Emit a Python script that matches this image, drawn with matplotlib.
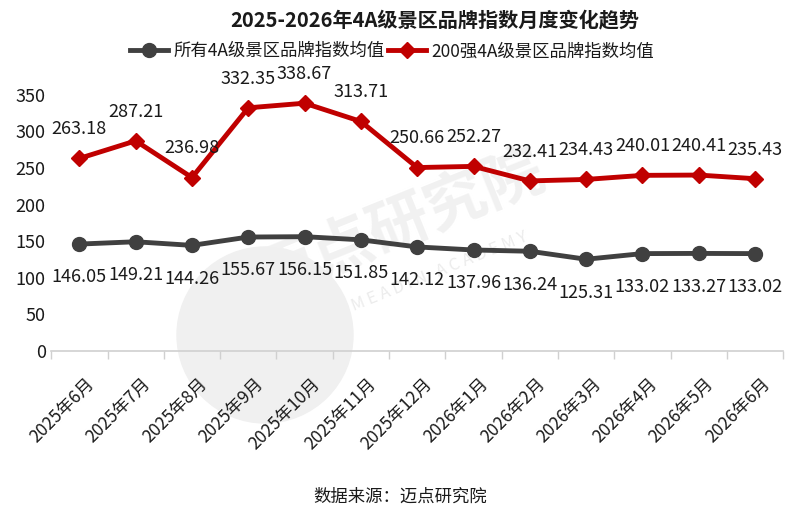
import matplotlib
matplotlib.use("Agg")
import matplotlib.pyplot as plt
from matplotlib.patches import Circle
from matplotlib.transforms import IdentityTransform, ScaledTranslation

plt.rcParams['font.family'] = ['Noto Sans CJK SC', 'DejaVu Sans']

months = ["2025年6月", "2025年7月", "2025年8月", "2025年9月", "2025年10月", "2025年11月",
          "2025年12月", "2026年1月", "2026年2月", "2026年3月", "2026年4月", "2026年5月", "2026年6月"]
all_4a = [146.05, 149.21, 144.26, 155.67, 156.15, 151.85, 142.12, 137.96, 136.24, 125.31, 133.02, 133.27, 133.02]
top200 = [263.18, 287.21, 236.98, 332.35, 338.67, 313.71, 250.66, 252.27, 232.41, 234.43, 240.01, 240.41, 235.43]
yticks = [0, 50, 100, 150, 200, 250, 300, 350]

fig = plt.figure(figsize=(8, 5.13), dpi=100)
ax = fig.add_axes([0.064, 0.316, 0.915, 0.499])
ax.set_zorder(2)
ax.patch.set_alpha(0)

# faint watermark (pixel coordinates)
wm = Circle((265, 513 - 335), 88, transform=IdentityTransform(), color='#f0f0f0', zorder=0)
fig.add_artist(wm)
fig.text(0.50, 0.56, "迈点研究院", fontsize=44, color='#f1f1f1', rotation=22,
         ha='center', va='center', zorder=0, fontweight='bold')
fig.text(0.55, 0.47, "M E A D I N   A C A D E M Y", fontsize=12, color='#ececec', rotation=22,
         ha='center', va='center', zorder=0)

x = list(range(len(months)))
ax.plot(x, all_4a, color='#404040', lw=3.5, marker='o', markersize=10, label='所有4A级景区品牌指数均值', zorder=3)
ax.plot(x, top200, color='#C00000', lw=3.5, marker='D', markersize=8, label='200强4A级景区品牌指数均值', zorder=3)

for i, v in enumerate(all_4a):
    ax.annotate(f"{v:.2f}", (i, v), xytext=(0, -24), textcoords='offset points',
                ha='center', va='center', fontsize=13, color='#1a1a1a')
for i, v in enumerate(top200):
    ax.annotate(f"{v:.2f}", (i, v), xytext=(0, 21), textcoords='offset points',
                ha='center', va='center', fontsize=13, color='#1a1a1a')

ax.set_xlim(-0.5, len(months) - 0.5)
ax.set_ylim(0, 350)
ax.set_yticks(yticks)
ax.set_yticklabels([str(t) for t in yticks], fontsize=13, color='#1a1a1a')
ax.set_xticks(x)
ax.set_xticklabels(months, rotation=45, ha='right', rotation_mode='anchor', fontsize=12.5, color='#1a1a1a')
ax.tick_params(axis='x', length=0, pad=17)
ax.tick_params(axis='y', length=0, pad=4)
shift = ScaledTranslation(0.06, 0, fig.dpi_scale_trans)
for lab in ax.get_xticklabels():
    lab.set_transform(lab.get_transform() + shift)
ax.set_xticks([i - 0.5 for i in range(len(months) + 1)], minor=True)
ax.tick_params(axis='x', which='minor', length=6, color='#d0d0d0', width=1)
for s in ['top', 'right', 'left']:
    ax.spines[s].set_visible(False)
ax.spines['bottom'].set_color('#d0d0d0')
ax.spines['bottom'].set_linewidth(1.2)

fig.text(0.544, 0.962, "2025-2026年4A级景区品牌指数月度变化趋势", fontsize=14.5, fontweight='bold',
         ha='center', va='center', color='#1a1a1a')
leg = fig.legend(loc='center', bbox_to_anchor=(0.49, 0.9), ncol=2, frameon=False, fontsize=12.5,
                 handlelength=2.2, handletextpad=0.3, columnspacing=0.2, borderaxespad=0)
for t in leg.get_texts():
    t.set_color('#1a1a1a')
fig.text(0.5, 0.031, "数据来源：迈点研究院", fontsize=12.5, ha='center', va='center', color='#1a1a1a')

fig.savefig("out.png", dpi=100)
